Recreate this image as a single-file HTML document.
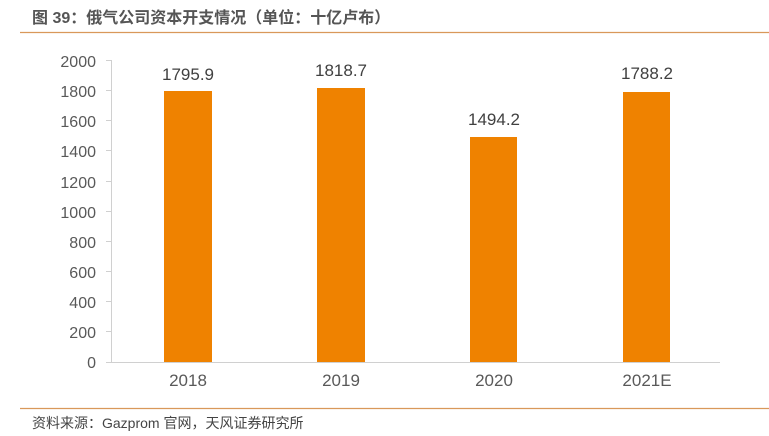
<!DOCTYPE html>
<html><head><meta charset="utf-8"><style>
body{margin:0;width:769px;height:436px;background:#fff;overflow:hidden;font-family:"Liberation Sans","Noto Sans CJK SC",sans-serif;}
</style></head><body>
<svg width="769" height="436" xmlns="http://www.w3.org/2000/svg" style="position:absolute;left:0;top:0">
<text x="32" y="23" font-size="16" font-weight="bold" fill="#555" font-family="Liberation Sans,Noto Sans CJK SC,sans-serif">图 39：俄气公司资本开支情况（单位：十亿卢布）</text>
<line x1="20" y1="32.5" x2="769" y2="32.5" stroke="#d9985a" stroke-width="1.2"/>
<g font-size="16" fill="#595959" text-anchor="end" font-family="Liberation Sans,sans-serif">
<text x="96" y="67">2000</text><text x="96" y="97">1800</text><text x="96" y="127">1600</text><text x="96" y="157">1400</text><text x="96" y="188">1200</text><text x="96" y="218">1000</text><text x="96" y="248">800</text><text x="96" y="278">600</text><text x="96" y="308">400</text><text x="96" y="338">200</text><text x="96" y="368">0</text>
</g>
<g stroke="#d0d0d0" stroke-width="1">
<line x1="111.5" y1="60" x2="111.5" y2="362"/>
<line x1="106" y1="362.5" x2="720" y2="362.5"/>
<line x1="106" y1="60.5" x2="111" y2="60.5"/><line x1="106" y1="90.5" x2="111" y2="90.5"/><line x1="106" y1="120.5" x2="111" y2="120.5"/><line x1="106" y1="150.5" x2="111" y2="150.5"/><line x1="106" y1="181.5" x2="111" y2="181.5"/><line x1="106" y1="211.5" x2="111" y2="211.5"/><line x1="106" y1="241.5" x2="111" y2="241.5"/><line x1="106" y1="271.5" x2="111" y2="271.5"/><line x1="106" y1="301.5" x2="111" y2="301.5"/><line x1="106" y1="331.5" x2="111" y2="331.5"/>
</g>
<g fill="#ef8200">
<rect x="164" y="91" width="48" height="271"/>
<rect x="317" y="88" width="48" height="274"/>
<rect x="470" y="137" width="47" height="225"/>
<rect x="623" y="92" width="47" height="270"/>
</g>
<g font-size="17" fill="#404040" text-anchor="middle" font-family="Liberation Sans,sans-serif">
<text x="188" y="80">1795.9</text><text x="341" y="76">1818.7</text><text x="494" y="125">1494.2</text><text x="647" y="79">1788.2</text>
</g>
<g font-size="17" fill="#595959" text-anchor="middle" font-family="Liberation Sans,sans-serif">
<text x="188" y="386">2018</text><text x="341" y="386">2019</text><text x="494" y="386">2020</text><text x="647" y="386">2021E</text>
</g>
<line x1="20" y1="408.5" x2="769" y2="408.5" stroke="#d9985a" stroke-width="1.2"/>
<text x="32" y="428" font-size="14" fill="#444" font-family="Liberation Sans,Noto Sans CJK SC,sans-serif">资料来源：Gazprom 官网，天风证券研究所</text>
</svg>
</body></html>
